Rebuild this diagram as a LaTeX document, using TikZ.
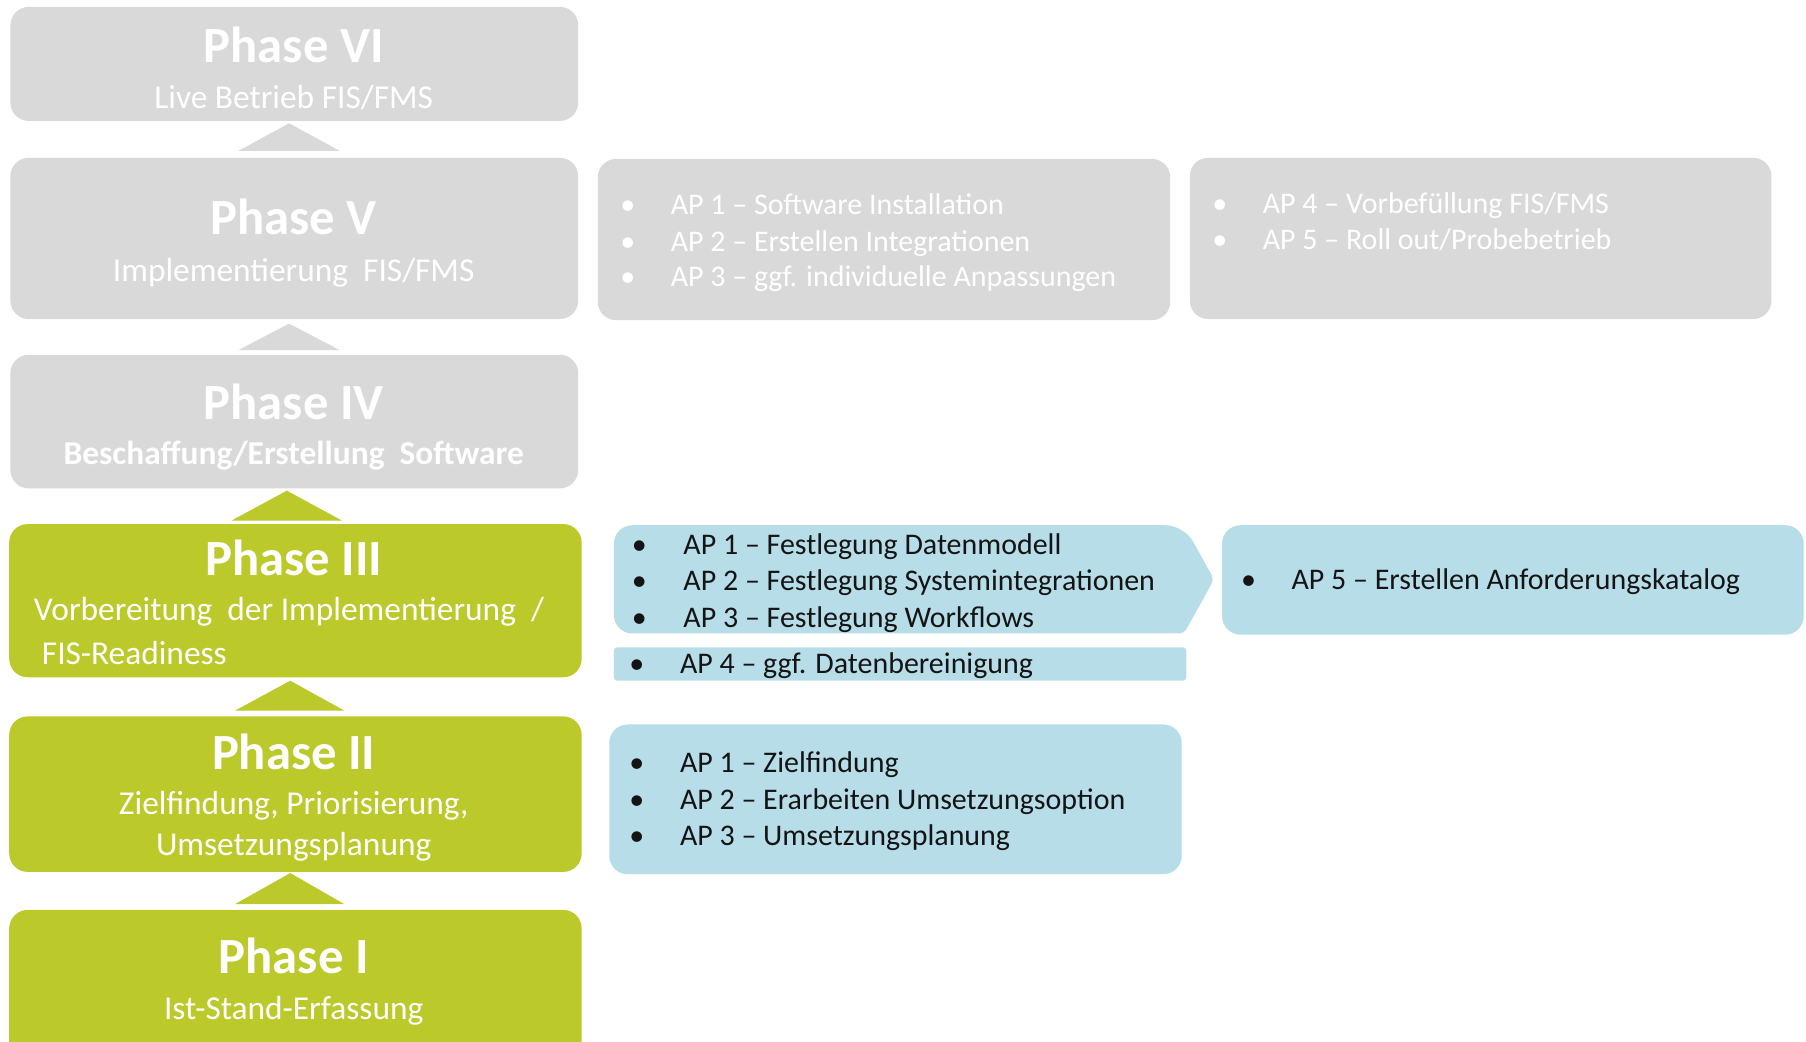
\documentclass[tikz,border=0pt]{standalone}
\usepackage{fontspec}
\setmainfont{Carlito}
\usetikzlibrary{fit}
\definecolor{pgray}{RGB}{217,217,217}
\definecolor{pgreen}{RGB}{187,201,42}
\definecolor{pblue}{RGB}{183,221,232}
\definecolor{ptext}{RGB}{20,20,20}
\begin{document}
\begin{tikzpicture}[x=0.5pt,y=-0.5pt,
  graybox/.style={fill=pgray, inner sep=0pt, rounded corners=8pt},
  greenbox/.style={fill=pgreen, inner sep=0pt, rounded corners=8pt},
  bluebox/.style={fill=pblue, inner sep=0pt, rounded corners=8pt},
  phtitle/.style={text=white, font=\fontsize{22}{26}\selectfont\bfseries, anchor=base, inner sep=0pt},
  phsub/.style={text=white, font=\fontsize{14.5}{17}\selectfont, anchor=base, inner sep=0pt},
  apbullet/.style={font=\fontsize{13}{15.75}\selectfont, anchor=base, inner sep=0pt},
  aptext/.style={font=\fontsize{13}{15.75}\selectfont, anchor=base west, inner sep=0pt},
  ongray/.style={text=white},
  onblue/.style={text=ptext},
]
\useasboundingbox (0,0) rectangle (1568,904);
\fill[white] (0,0) rectangle (1568,904);
\clip (0,0) rectangle (1568,904);

% Phase VI
\node[fit={(9,6)(502,105)}, graybox] (p6) {};
\node[phtitle] (p6t) at (255,54) {Phase VI};
\node[phsub] (p6s) at (255,94) {Live Betrieb FIS/FMS};
\fill[pgray] (207,131) -- (251,107) -- (295,131) -- cycle;

% Phase V
\node[fit={(9,137)(502,277)}, graybox] (p5) {};
\node[phtitle] (p5t) at (255,204) {Phase V};
\node[phsub] (p5s) at (255,244) {Implementierung\ \ FIS/FMS};
\fill[pgray] (207,304) -- (251,281) -- (295,304) -- cycle;

% Phase IV
\node[fit={(9,308)(502,424)}, graybox] (p4) {};
\node[phtitle] (p4t) at (255,364) {Phase IV};
\node[phsub, font=\fontsize{14.5}{17}\selectfont\bfseries] (p4s) at (255,403) {Beschaffung/Erstellung\ \ Software};
\fill[pgreen] (201,452) -- (249,426) -- (297,452) -- cycle;

% Phase III
\node[fit={(8,455)(505,588)}, greenbox] (p3) {};
\node[phtitle] (p3t) at (255,500) {Phase III};
\node[phsub, anchor=base west] (p3s1) at (29,539) {Vorbereitung\ \ der Implementierung\ \ /};
\node[phsub, anchor=base west] (p3s2) at (36,577) {FIS-Readiness};
\fill[pgreen] (204,617) -- (252,591) -- (299,617) -- cycle;

% Phase II
\node[fit={(8,622)(505,757)}, greenbox] (p2) {};
\node[phtitle] (p2t) at (255,668) {Phase II};
\node[phsub] (p2s1) at (255,707) {Zielfindung, Priorisierung,};
\node[phsub] (p2s2) at (255,743) {Umsetzungsplanung};
\fill[pgreen] (204,785) -- (252,758) -- (299,785) -- cycle;

% Phase I
\node[fit={(8,790)(505,940)}, greenbox] (p1) {};
\node[phtitle] (p1t) at (255,845) {Phase I};
\node[phsub] (p1s) at (255,885) {Ist-Stand-Erfassung};

% Gray AP box A
\node[fit={(519,138)(1016,278)}, graybox] (ga) {};
\node[apbullet, ongray] (gab1) at (545,186) {•};
\node[aptext, ongray] (gat1) at (582,186) {AP 1 – Software Installation};
\node[apbullet, ongray] (gab2) at (545,218) {•};
\node[aptext, ongray] (gat2) at (582,218) {AP 2 – Erstellen Integrationen};
\node[apbullet, ongray] (gab3) at (545,249) {•};
\node[aptext, ongray] (gat3) at (582,249) {AP 3 – ggf. individuelle Anpassungen};

% Gray AP box B
\node[fit={(1033,137)(1538,277)}, graybox] (gb) {};
\node[apbullet, ongray] (gbb1) at (1059,185) {•};
\node[aptext, ongray] (gbt1) at (1096,185) {AP 4 – Vorbefüllung FIS/FMS};
\node[apbullet, ongray] (gbb2) at (1059,217) {•};
\node[aptext, ongray] (gbt2) at (1096,217) {AP 5 – Roll out/Probebetrieb};

% Blue chevron
\fill[pblue] [rounded corners=8pt] (533,503) -- (533,456) -- (1028,456) [rounded corners=2pt] -- (1054,503) -- (1028,550) [rounded corners=8pt] -- (533,550) -- cycle;
\coordinate (chev) at (1054,503);
\node[apbullet, onblue] (cb1) at (555,481) {•};
\node[aptext, onblue] (ct1) at (593,481) {AP 1 – Festlegung Datenmodell};
\node[apbullet, onblue] (cb2) at (555,513) {•};
\node[aptext, onblue] (ct2) at (593,513) {AP 2 – Festlegung Systemintegrationen};
\node[apbullet, onblue] (cb3) at (555,545) {•};
\node[aptext, onblue] (ct3) at (593,545) {AP 3 – Festlegung Workflows};

% AP5 box
\node[fit={(1061,456)(1566,551)}, bluebox] (b5) {};
\node[apbullet, onblue] (b5b) at (1084,512) {•};
\node[aptext, onblue] (b5t) at (1121,512) {AP 5 – Erstellen Anforderungskatalog};

% AP4 box
\node[fit={(533,562)(1030,591)}, bluebox, rounded corners=1.5pt] (b4) {};
\node[apbullet, onblue] (b4b) at (553,585) {•};
\node[aptext, onblue] (b4t) at (590,585) {AP 4 – ggf. Datenbereinigung};

% Phase II AP box
\node[fit={(529,629)(1026,759)}, bluebox] (b2) {};
\node[apbullet, onblue] (b2b1) at (553,671) {•};
\node[aptext, onblue] (b2t1) at (590,671) {AP 1 – Zielfindung};
\node[apbullet, onblue] (b2b2) at (553,703) {•};
\node[aptext, onblue] (b2t2) at (590,703) {AP 2 – Erarbeiten Umsetzungsoption};
\node[apbullet, onblue] (b2b3) at (553,734) {•};
\node[aptext, onblue] (b2t3) at (590,734) {AP 3 – Umsetzungsplanung};
\end{tikzpicture}
\end{document}
